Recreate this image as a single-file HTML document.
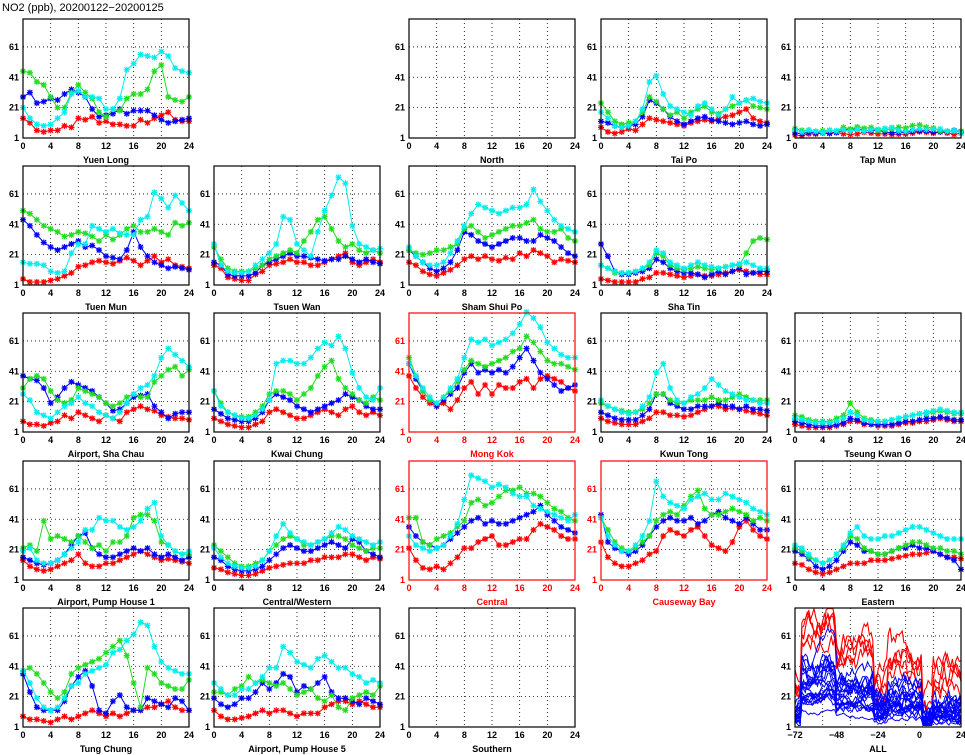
<!DOCTYPE html>
<html><head><meta charset="utf-8">
<style>
html,body{margin:0;padding:0;background:#fff;width:965px;height:755px;overflow:hidden}
svg text{font-family:"Liberation Sans",sans-serif;font-weight:bold}
</style></head><body>
<svg id="s" width="965" height="755" xmlns="http://www.w3.org/2000/svg">
<text x="2" y="11" font-size="11" style="font-weight:normal">NO2 (ppb), 20200122−20200125</text>
</svg>
<script>
var S=document.getElementById('s'),NS='http://www.w3.org/2000/svg',out='';
var seed=7;function rnd(){seed=(seed*16807)%2147483647;return seed/2147483647;}
var cols=[23,214,409,601,795],rows=[19,166,313,461,608],W=166,H=119,YMAX=79.4;
function Y(t,v){return t+H-(v-1)/(YMAX-1)*H;}
function gen(base,amp,peak){var a=[],w=0;for(var i=0;i<25;i++){w=w*0.6+(rnd()-0.5)*amp;var p=peak*(Math.exp(-Math.pow((i-8)/2,2))+0.8*Math.exp(-Math.pow((i-18)/3,2)));var v=base+w+p;a.push(Math.max(2,Math.min(76,v)));}return a;}
var C=['#ff0000','#0000ff','#22dd22','#00eeee'];
var P=[
[0,0,'Yuen Long',0,[[14,11,6,5,6,6,9,8,14,13,15,11,12,10,10,9,9,13,11,14,16,18,13,12,12],[28,31,24,25,27,26,30,33,31,28,20,15,16,17,20,17,19,19,19,16,13,11,12,13,14],[45,44,38,36,28,21,21,31,36,31,27,18,15,20,19,27,30,30,33,45,49,28,26,25,28],[21,14,10,9,10,14,18,30,32,28,28,27,20,20,27,46,50,56,55,54,58,55,47,45,44]]],
[0,2,'North',0,null],
[0,3,'Tai Po',0,[[8,5,4,5,7,6,10,14,13,12,11,10,9,11,12,13,12,14,15,16,18,20,14,12,11],[12,11,9,8,9,10,15,26,24,20,15,12,10,12,14,15,13,12,11,10,11,12,10,9,10],[24,18,12,10,11,12,18,28,25,20,16,18,14,18,20,22,18,17,20,22,24,26,22,21,20],[18,14,9,8,9,12,20,38,42,30,22,20,18,16,22,24,20,16,20,28,24,26,27,25,24]]],
[0,4,'Tap Mun',0,'low'],
[1,0,'Tuen Mun',0,[[5,3,3,3,4,5,7,9,13,14,16,17,16,15,17,19,17,14,17,20,16,18,14,13,12],[44,40,34,29,26,24,26,28,30,26,27,24,20,19,18,24,36,26,20,16,14,12,13,12,11],[50,48,44,40,38,36,33,34,36,35,33,30,34,31,34,38,40,36,36,38,36,34,42,40,42],[16,15,15,14,10,9,10,22,28,28,40,38,36,38,35,34,34,44,46,62,58,52,60,55,50]]],
[1,1,'Tsuen Wan',0,[[14,12,6,5,4,4,8,10,14,15,16,18,16,16,14,14,16,18,20,22,16,14,16,18,16],[16,14,8,7,7,7,9,14,16,18,20,22,20,20,19,18,17,18,18,20,18,16,18,16,15],[26,18,12,10,10,10,12,14,18,20,22,24,22,30,36,44,46,38,30,26,28,24,22,24,22],[28,14,10,9,9,10,14,18,22,28,46,44,28,24,20,36,50,60,72,68,40,28,26,24,25]]],
[1,2,'Sham Shui Po',0,[[16,14,10,8,7,9,11,14,18,20,18,20,18,17,19,18,22,20,24,22,20,16,18,17,16],[24,20,16,12,10,12,16,24,36,34,30,28,26,28,30,32,32,30,30,34,32,30,26,22,20],[24,22,21,22,24,24,26,28,38,40,36,32,34,36,38,40,40,42,44,38,36,36,38,32,30],[26,20,16,14,14,16,22,30,40,48,54,52,50,48,50,52,52,54,64,56,50,44,40,38,36]]],
[1,3,'Sha Tin',0,[[5,4,3,3,3,3,5,6,9,9,8,7,6,7,8,7,7,8,9,10,11,10,9,8,8],[28,20,10,8,8,9,10,12,18,16,12,10,9,9,8,6,8,10,8,10,12,8,9,10,10],[14,12,9,9,9,10,12,14,22,20,14,12,11,12,13,12,11,12,13,14,14,22,30,32,31],[14,12,10,9,9,10,12,16,24,22,16,14,12,14,16,14,13,12,13,14,15,16,14,12,12]]],
[2,0,'Airport, Sha Chau',0,[[8,6,6,5,7,8,12,10,14,12,10,8,12,10,8,14,16,18,16,15,12,11,10,10,9],[38,36,35,30,20,24,30,34,32,30,28,24,20,15,16,20,24,25,26,18,14,10,13,14,14],[30,36,38,36,28,22,20,22,30,28,26,24,20,18,20,24,26,24,24,34,38,42,44,38,42],[26,22,14,12,10,14,18,20,24,20,18,14,12,10,14,20,26,30,32,38,50,56,52,48,44]]],
[2,1,'Kwai Chung',0,[[10,8,6,5,4,4,6,8,14,16,14,12,10,10,12,14,16,14,12,16,18,14,12,14,12],[16,13,10,9,8,8,10,14,22,26,24,22,18,16,14,16,18,20,22,26,24,22,18,16,16],[28,20,14,12,11,11,14,18,26,28,28,26,22,26,30,38,44,48,36,30,26,22,20,24,22],[28,18,14,12,10,10,12,16,22,46,48,48,46,46,50,56,60,58,64,56,40,30,24,22,30]]],
[2,2,'Mong Kok',1,[[38,30,24,20,18,20,16,22,30,34,26,32,26,32,30,30,34,36,30,36,38,36,34,30,28],[46,36,28,22,18,22,26,30,40,46,40,42,40,42,40,44,50,56,48,40,36,32,28,30,32],[50,38,28,22,20,24,28,34,42,48,46,44,46,48,50,54,56,64,60,54,48,46,46,44,42],[46,38,30,24,20,24,30,36,50,62,60,62,58,60,62,66,72,80,76,70,60,56,52,50,50]]],
[2,3,'Kwun Tong',0,[[10,8,7,6,6,6,8,10,14,14,12,12,11,12,14,16,18,18,16,17,16,15,14,13,12],[14,12,10,9,9,9,12,16,26,26,20,18,16,16,18,18,18,20,18,18,16,18,16,16,15],[20,18,16,15,14,14,16,20,26,26,22,20,20,22,22,22,24,22,22,24,26,24,22,22,22],[22,18,16,14,13,14,18,24,40,46,30,22,20,24,26,30,36,32,28,26,24,22,22,20,20]]],
[2,4,'Tseung Kwan O',0,[[6,5,4,4,4,4,5,6,8,8,6,6,5,5,5,6,7,7,8,8,9,10,9,8,8],[8,7,6,5,5,5,6,7,10,9,7,6,6,6,6,7,8,8,9,10,10,11,10,9,9],[12,11,9,8,8,8,10,12,20,14,10,9,8,8,9,10,11,12,13,13,14,15,14,13,13],[10,9,8,7,7,7,8,10,14,12,9,8,8,8,9,10,11,12,13,14,15,16,15,14,14]]],
[3,0,'Airport, Pump House 1',0,[[14,10,8,7,8,10,12,14,18,12,10,10,12,12,14,16,18,20,18,16,14,15,14,13,12],[16,14,12,11,12,14,18,24,30,32,22,18,16,16,18,20,22,20,22,18,16,18,16,14,16],[22,24,20,40,28,30,28,26,30,26,22,24,20,26,26,30,42,44,44,40,26,24,20,18,18],[20,22,14,12,12,14,18,22,26,34,34,42,40,40,36,34,36,40,48,52,30,24,20,18,20]]],
[3,1,'Central/Western',0,[[9,8,6,5,4,4,5,7,9,10,11,12,12,12,14,14,16,16,16,18,18,16,14,16,15],[16,14,10,8,7,7,8,10,14,18,22,24,22,20,20,22,24,26,24,22,28,26,20,18,16],[24,20,16,12,10,10,12,14,20,24,28,30,28,24,24,26,28,30,30,28,24,22,20,22,22],[22,16,12,10,9,9,10,14,20,30,38,32,28,26,24,26,28,32,36,34,30,28,26,24,26]]],
[3,2,'Central',1,[[22,14,9,8,10,8,12,16,22,22,26,28,30,24,24,26,28,28,34,38,36,34,30,28,28],[36,30,26,24,22,24,28,32,36,40,42,38,40,38,38,40,42,44,46,50,44,40,36,34,32],[42,42,26,24,28,30,32,36,40,52,54,50,52,56,60,60,62,58,58,56,52,48,46,42,40],[30,24,22,20,22,24,30,38,54,70,68,66,62,64,62,58,56,56,50,48,46,44,42,40,44]]],
[3,3,'Causeway Bay',1,[[26,16,12,10,10,12,14,18,20,30,34,32,30,34,36,30,24,22,20,26,36,40,34,30,28],[44,26,22,20,18,20,24,30,36,40,42,40,40,42,38,40,44,46,42,40,38,42,38,34,34],[42,34,26,22,20,22,26,30,40,44,46,44,50,56,60,48,44,44,46,48,46,44,40,42,40],[42,30,24,20,20,24,30,40,66,56,52,50,48,54,56,58,54,54,58,56,54,52,48,46,44]]],
[3,4,'Eastern',0,[[12,11,8,6,5,6,8,10,12,12,12,14,14,14,15,16,17,18,18,19,20,18,16,16,15],[20,18,15,10,8,10,14,20,26,24,20,20,18,18,20,22,22,24,22,22,20,18,16,14,8],[22,20,16,14,12,14,18,22,30,28,22,20,18,18,20,22,24,26,26,24,22,22,20,20,18],[24,22,18,14,12,14,18,24,32,36,30,28,28,30,30,32,34,36,36,34,32,30,28,28,28]]],
[4,0,'Tung Chung',0,[[8,6,6,5,4,6,8,6,8,10,12,10,8,10,8,10,12,12,14,14,16,18,14,12,12],[36,24,14,12,12,12,18,28,34,38,28,12,10,18,22,14,12,12,20,18,16,14,20,18,12],[38,40,36,30,24,20,24,36,40,42,44,46,50,54,58,48,30,14,40,36,30,28,26,26,32],[38,30,20,14,12,14,20,28,30,36,38,40,42,50,52,58,62,70,68,54,44,40,38,36,36]]],
[4,1,'Airport, Pump House 5',0,[[12,8,6,6,7,8,10,12,10,12,12,10,8,10,10,10,14,16,18,18,16,18,16,14,14],[20,16,14,16,20,20,24,30,26,30,36,34,24,28,26,30,34,24,20,20,18,16,20,18,16],[24,24,22,26,28,34,30,32,30,28,30,26,22,24,26,20,18,22,14,12,20,22,24,22,28],[30,26,22,22,26,26,30,34,40,40,54,50,44,42,40,46,48,44,40,40,36,34,30,32,30]]],
[4,2,'Southern',0,null],
[4,4,'ALL',0,'all']
];
function star(x,y,c){var r=3;return '<path d="M'+(x-r)+' '+y+'h'+(2*r)+'M'+x+' '+(y-r)+'v'+(2*r)+'M'+(x-2.3)+' '+(y-2.3)+'l4.6 4.6M'+(x-2.3)+' '+(y+2.3)+'l4.6 -4.6" stroke="'+c+'" stroke-width="1.2"/>';}
function envR(h){if(h<-68)return 28;if(h<-48)return 58+10*Math.exp(-Math.pow((h+53)/4,2));if(h<-26)return 48;if(h<-18)return 28;if(h<2)return 40;if(h<8)return 14;return 32;}
function envB(h){if(h<-68)return 12;if(h<-48)return 38+8*Math.exp(-Math.pow((h+53)/4,2));if(h<-26)return 30;if(h<-18)return 18;if(h<2)return 24;if(h<8)return 7;return 14;}
P.forEach(function(p){
 var l=cols[p[1]],t=rows[p[0]],red=p[3],fc=red?'#f00':'#000',o='';
 for(var k=1;k<6;k++){var gx=l+W*k/6;o+='<line x1="'+gx+'" y1="'+t+'" x2="'+gx+'" y2="'+(t+H)+'" stroke="#000" stroke-width="0.8" stroke-dasharray="1,3"/>';}
 [21,41,61].forEach(function(v){var gy=Y(t,v);o+='<line x1="'+l+'" y1="'+gy+'" x2="'+(l+W)+'" y2="'+gy+'" stroke="#000" stroke-width="0.8" stroke-dasharray="1,3"/>';});
 [1,21,41,61].forEach(function(v){o+='<text x="'+(l-4)+'" y="'+(Y(t,v)+3)+'" font-size="9" text-anchor="end" fill="'+fc+'">'+v+'</text>';});
 var xl=p[4]==='all'?['−72','−48','−24','0','24']:['0','4','8','12','16','20','24'];
 xl.forEach(function(s,i){o+='<text x="'+(l+W*i/(xl.length-1))+'" y="'+(t+H+11)+'" font-size="9" text-anchor="middle" fill="'+fc+'">'+s+'</text>';});
 o+='<text x="'+(l+W/2)+'" y="'+(t+H+25)+'" font-size="9" text-anchor="middle" fill="'+fc+'">'+p[2]+'</text>';
 var d=p[4];
 if(d==='low'){seed=99;d=[gen(4,2,0),gen(5,2,1),gen(6,3,2),gen(5,3,1)];}
 if(d==='all'){
   var lines=[];
   for(var n=0;n<26;n++){var isR=n>=21;var pts=[];var w=0;var sc=isR?(0.85+rnd()*0.35):(0.25+rnd()*1.1);
     for(var i=0;i<=96;i++){w=w*0.8+(rnd()-0.5)*(isR?14:10)*Math.min(sc,1);var h=i-72;
       var v=(isR?envR(h):envB(h))*sc+w;v=Math.max(2,Math.min(79,v));
       pts.push((l+W*i/96).toFixed(1)+','+Y(t,v).toFixed(1));}
     lines.push([isR,pts]);}
   lines.forEach(function(a){if(a[0])o+='<polyline points="'+a[1].join(' ')+'" fill="none" stroke="#f00" stroke-width="1.1"/>';});
   lines.forEach(function(a){if(!a[0])o+='<polyline points="'+a[1].join(' ')+'" fill="none" stroke="#00f" stroke-width="1"/>';});
 } else if(d){
   d.forEach(function(a,si){var pts=[],m='';a.forEach(function(v,i){var x=l+W*i/24,y=Y(t,v);pts.push(x.toFixed(1)+','+y.toFixed(1));m+=star(x,y,C[si]);});
     o+='<polyline points="'+pts.join(' ')+'" fill="none" stroke="'+C[si]+'" stroke-width="1"/>'+m;});
 }
 o+='<rect x="'+l+'" y="'+t+'" width="'+W+'" height="'+H+'" fill="none" stroke="'+fc+'" stroke-width="1.2"/>';
 out+=o;
});
S.insertAdjacentHTML('beforeend',out);
</script>
</body></html>
